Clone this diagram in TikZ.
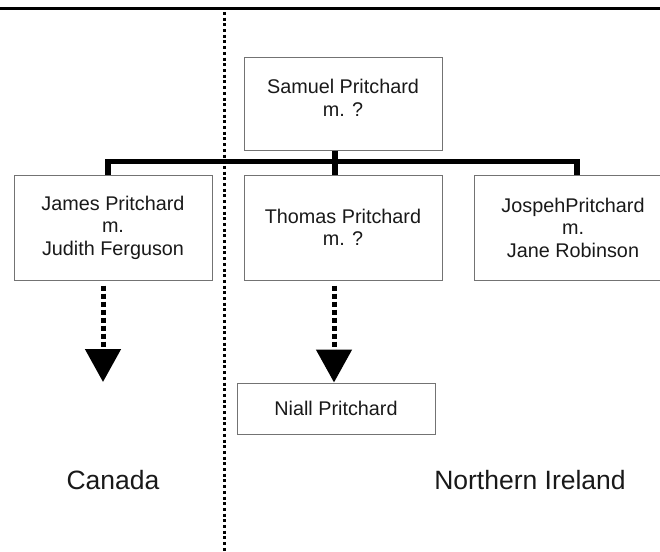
\documentclass[tikz,border=0pt]{standalone}
\usepackage{fontspec}
\setmainfont{Liberation Sans}
\usetikzlibrary{arrows.meta}
\begin{document}
\begin{tikzpicture}[x=1pt,y=-1pt,
  person/.style={draw=black!55, line width=1pt, rectangle, inner sep=0pt,
    minimum width=198pt, align=center, font=\fontsize{19.8}{22.5}\selectfont, text=black!90},
  bus/.style={line width=5.5pt, line join=miter, line cap=butt},
  descent/.style={line width=5pt, dash pattern=on 5pt off 3pt, -{Triangle[width=35pt,length=33pt]}},
  divider/.style={line width=3pt, dash pattern=on 3pt off 2.7pt},
  region/.style={font=\fontsize{26.5}{30}\selectfont, anchor=base, text=black!90}]
\useasboundingbox (0,0) rectangle (660,551);

\node[person, minimum height=93pt, text depth=11pt] (samuel) at (343,103.5) {Samuel Pritchard\\m. ?};
\node[person, minimum height=105pt] (james) at (113,227.5) {James Pritchard\\m.\\Judith Ferguson};
\node[person, minimum height=105pt] (thomas) at (343,227.5) {Thomas Pritchard\\m. ?};
\node[person, minimum height=105pt] (joseph) at (573,227.5) {JospehPritchard\\m.\\Jane Robinson};
\node[person, minimum height=51pt] (niall) at (336,408.5) {Niall Pritchard};
\node[region] (canada) at (113,489) {Canada};
\node[region] (ni) at (530,489) {Northern Ireland};

\coordinate (tl) at (0,8.5);
\coordinate (tr) at (660,8.5);
\draw[line width=3pt] (tl) -- (tr);

\coordinate (dtop) at (224,12);
\coordinate (dbot) at (224,551);
\draw[divider] (dtop) -- (dbot);

\draw[bus] ([xshift=-5pt]james.north) |- ([xshift=4pt,yshift=13pt]joseph.north) -- ([xshift=4pt]joseph.north);
\draw[bus] ([xshift=-8pt]samuel.south) -- ([xshift=-8pt]thomas.north);

\coordinate (canadaend) at (103,382);
\draw[descent] ([xshift=-10pt,yshift=-5pt]james.south) -- (canadaend);
\draw[descent] ([xshift=-9pt,yshift=-5pt]thomas.south) -- ([xshift=-2pt]niall.north);
\end{tikzpicture}
\end{document}
